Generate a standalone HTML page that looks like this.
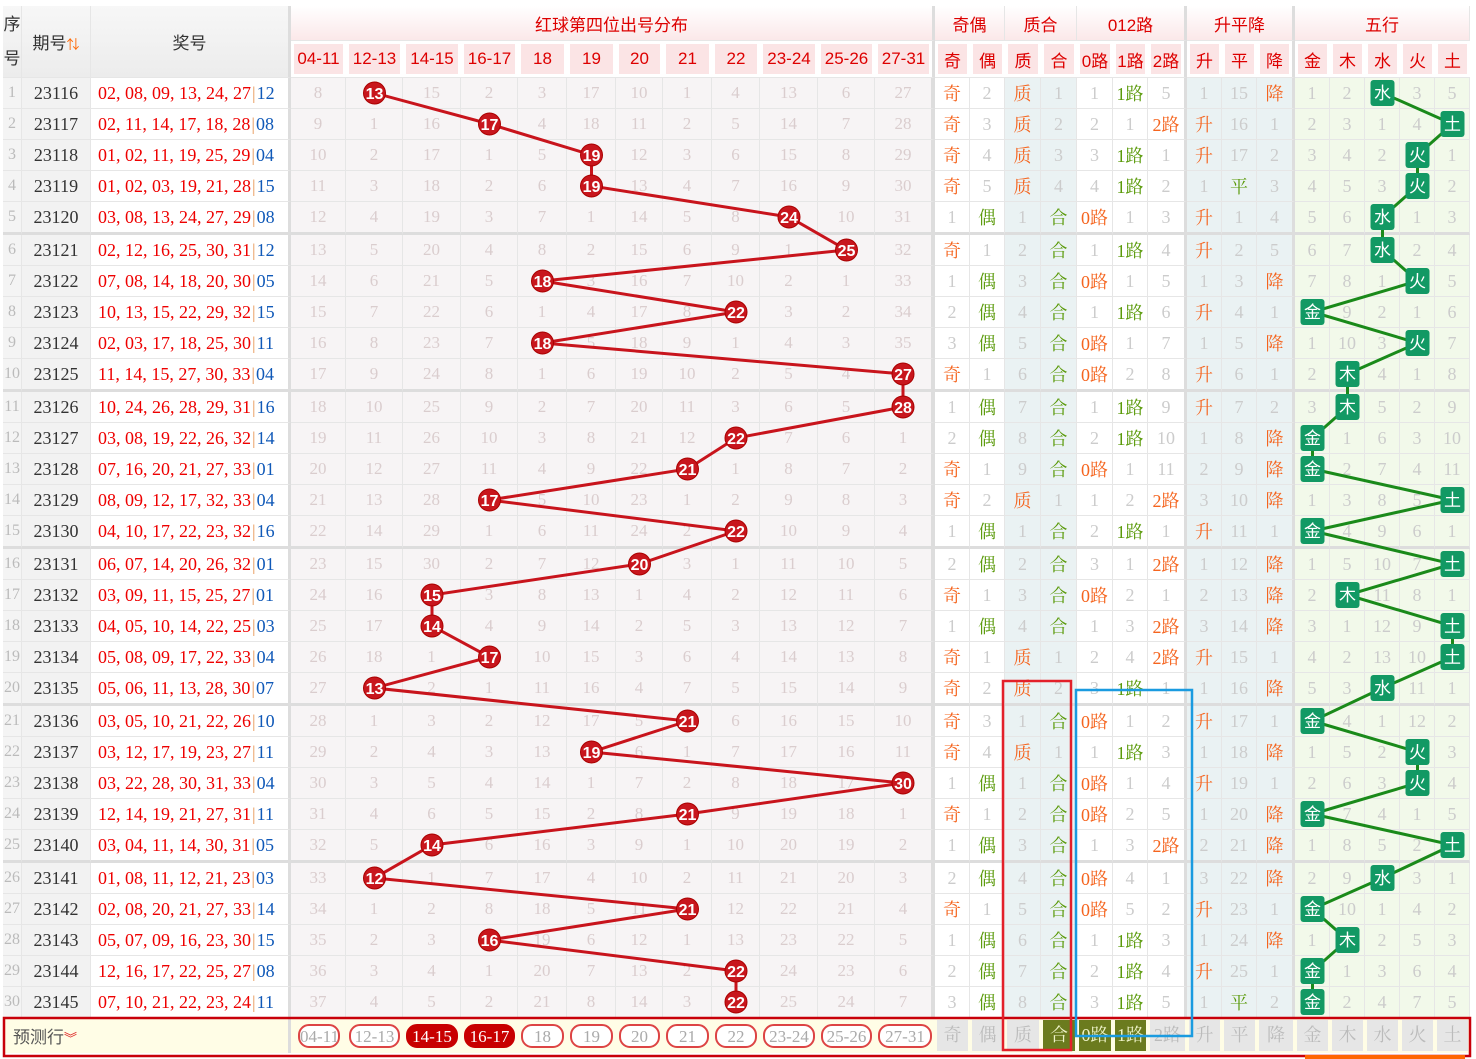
<!DOCTYPE html>
<html><head><meta charset="utf-8">
<style>
body{margin:0;background:#fff;width:1476px;height:1059px;overflow:hidden;position:relative}
table{position:absolute;left:3px;top:6px;border-collapse:separate;border-spacing:0;table-layout:fixed;width:1467px;font-family:"Liberation Serif","Noto Serif CJK SC",serif}
td,th{box-sizing:border-box;padding:0;text-align:center;vertical-align:middle;border-right:1px solid #e6e6e6;border-bottom:1px solid #e6e6e6;overflow:hidden;white-space:nowrap;font-weight:normal}
th{font-family:"Liberation Sans","Noto Sans CJK SC",sans-serif;font-size:17px;color:#d00}
thead tr.h1 th{height:35px;background:linear-gradient(#fff,#fbe8e9)}
thead tr.h1 th.l{background:linear-gradient(#f7f7f7,#ececec);color:#333}
thead tr.h2 th{height:37px;background:#fbe4e5;box-shadow:inset 0 0 0 3px #fff;border-right:none}
th.x{border-right:3px solid #ddd!important}
tbody td{height:31px;font-size:17px;color:#dacdce}
tbody tr.e td{height:33px;border-bottom:3px solid #ddd}
tbody td:nth-child(1){color:#bbb;font-size:16px}
tbody td:nth-child(2){color:#333;font-size:18px}
tbody td:nth-child(3){color:#e00;font-size:18px;text-align:left;padding-left:7px;border-right:3px solid #ddd}
tbody td:nth-child(15){border-right:4px solid #ddd}
tbody td:nth-child(22),tbody td:nth-child(25){border-right:3px solid #ddd}
tbody td:nth-child(n+16){color:#ccc;font-size:18px}
i{font-style:normal;color:#e89a5a;padding:0 1px}
u{text-decoration:none;color:#1059b8}
b{font-weight:normal;color:#f5641e}
em{font-style:normal;color:#5a9a0a}
tr.p td{height:35px;background:#fffde6!important;border-right:none;border-bottom:none}
.pl{display:inline-block;width:calc(100% - 6px);height:24px;line-height:21px;border:2px solid #d44;border-radius:11px;box-sizing:border-box;color:#aaa;font-size:17px;background:#fff}
.pf{background:#c80000;border-color:#c80000;color:#fff}
.g{display:inline-block;width:calc(100% - 4px);height:31px;line-height:31px;background:#e6e6e6;color:#bbb;font-size:18px}
.o{background:#6b7b1e;color:#eef3c8}
svg{position:absolute;left:0;top:0}
</style></head><body>
<table>
<colgroup>
<col style="width:19px;background:#f4f4f4"><col style="width:69px;background:#f2f2f2"><col style="width:200px;background:#fff">
<col style="width:55px;background:#f7f4f5"><col style="width:57px;background:#f7f4f5"><col style="width:58px;background:#f7f4f5"><col style="width:57px;background:#f7f4f5"><col style="width:49px;background:#f7f4f5"><col style="width:49px;background:#f7f4f5"><col style="width:47px;background:#f7f4f5"><col style="width:49px;background:#f7f4f5"><col style="width:48px;background:#f7f4f5"><col style="width:58px;background:#f7f4f5"><col style="width:57px;background:#f7f4f5"><col style="width:60px;background:#f7f4f5">
<col style="width:35px;background:#fff"><col style="width:35px;background:#fff"><col style="width:36px;background:#eaf2f3"><col style="width:36px;background:#eaf2f3"><col style="width:36px;background:#fff"><col style="width:35px;background:#fff"><col style="width:39px;background:#fff">
<col style="width:35px;background:#eaf2f3"><col style="width:35px;background:#eaf2f3"><col style="width:38px;background:#eaf2f3">
<col style="width:35px;background:#f2f9ea"><col style="width:35px;background:#f2f9ea"><col style="width:35px;background:#f2f9ea"><col style="width:35px;background:#f2f9ea"><col style="width:35px;background:#f2f9ea">
</colgroup>
<thead>
<tr class="h1"><th class="l" rowspan="2" style="white-space:normal;line-height:34px">序号</th><th class="l" rowspan="2">期号<span style="color:#f60;font-size:13px">⇅</span></th><th class="l x" rowspan="2">奖号</th><th class="x" colspan="12">红球第四位出号分布</th><th colspan="2">奇偶</th><th colspan="2">质合</th><th class="x" colspan="3">012路</th><th class="x" colspan="3">升平降</th><th colspan="5">五行</th></tr>
<tr class="h2"><th>04-11</th><th>12-13</th><th>14-15</th><th>16-17</th><th>18</th><th>19</th><th>20</th><th>21</th><th>22</th><th>23-24</th><th>25-26</th><th class="x">27-31</th><th>奇</th><th>偶</th><th>质</th><th>合</th><th>0路</th><th>1路</th><th class="x">2路</th><th>升</th><th>平</th><th class="x">降</th><th>金</th><th>木</th><th>水</th><th>火</th><th>土</th></tr>
</thead>
<tbody>
<tr><td>1<td>23116<td>02, 08, 09, 13, 24, 27<i>|</i><u>12</u><td>8<td><td>15<td>2<td>3<td>17<td>10<td>1<td>4<td>13<td>6<td>27<td><b>奇</b><td>2<td><b>质</b><td>1<td>1<td><em>1路</em><td>5<td>1<td>15<td><b>降</b><td>1<td>2<td><td>3<td>5</tr>
<tr><td>2<td>23117<td>02, 11, 14, 17, 18, 28<i>|</i><u>08</u><td>9<td>1<td>16<td><td>4<td>18<td>11<td>2<td>5<td>14<td>7<td>28<td><b>奇</b><td>3<td><b>质</b><td>2<td>2<td>1<td><b>2路</b><td><b>升</b><td>16<td>1<td>2<td>3<td>1<td>4<td></tr>
<tr><td>3<td>23118<td>01, 02, 11, 19, 25, 29<i>|</i><u>04</u><td>10<td>2<td>17<td>1<td>5<td><td>12<td>3<td>6<td>15<td>8<td>29<td><b>奇</b><td>4<td><b>质</b><td>3<td>3<td><em>1路</em><td>1<td><b>升</b><td>17<td>2<td>3<td>4<td>2<td><td>1</tr>
<tr><td>4<td>23119<td>01, 02, 03, 19, 21, 28<i>|</i><u>15</u><td>11<td>3<td>18<td>2<td>6<td><td>13<td>4<td>7<td>16<td>9<td>30<td><b>奇</b><td>5<td><b>质</b><td>4<td>4<td><em>1路</em><td>2<td>1<td><em>平</em><td>3<td>4<td>5<td>3<td><td>2</tr>
<tr class="e"><td>5<td>23120<td>03, 08, 13, 24, 27, 29<i>|</i><u>08</u><td>12<td>4<td>19<td>3<td>7<td>1<td>14<td>5<td>8<td><td>10<td>31<td>1<td><em>偶</em><td>1<td><em>合</em><td><b>0路</b><td>1<td>3<td><b>升</b><td>1<td>4<td>5<td>6<td><td>1<td>3</tr>
<tr><td>6<td>23121<td>02, 12, 16, 25, 30, 31<i>|</i><u>12</u><td>13<td>5<td>20<td>4<td>8<td>2<td>15<td>6<td>9<td>1<td><td>32<td><b>奇</b><td>1<td>2<td><em>合</em><td>1<td><em>1路</em><td>4<td><b>升</b><td>2<td>5<td>6<td>7<td><td>2<td>4</tr>
<tr><td>7<td>23122<td>07, 08, 14, 18, 20, 30<i>|</i><u>05</u><td>14<td>6<td>21<td>5<td><td>3<td>16<td>7<td>10<td>2<td>1<td>33<td>1<td><em>偶</em><td>3<td><em>合</em><td><b>0路</b><td>1<td>5<td>1<td>3<td><b>降</b><td>7<td>8<td>1<td><td>5</tr>
<tr><td>8<td>23123<td>10, 13, 15, 22, 29, 32<i>|</i><u>15</u><td>15<td>7<td>22<td>6<td>1<td>4<td>17<td>8<td><td>3<td>2<td>34<td>2<td><em>偶</em><td>4<td><em>合</em><td>1<td><em>1路</em><td>6<td><b>升</b><td>4<td>1<td><td>9<td>2<td>1<td>6</tr>
<tr><td>9<td>23124<td>02, 03, 17, 18, 25, 30<i>|</i><u>11</u><td>16<td>8<td>23<td>7<td><td>5<td>18<td>9<td>1<td>4<td>3<td>35<td>3<td><em>偶</em><td>5<td><em>合</em><td><b>0路</b><td>1<td>7<td>1<td>5<td><b>降</b><td>1<td>10<td>3<td><td>7</tr>
<tr class="e"><td>10<td>23125<td>11, 14, 15, 27, 30, 33<i>|</i><u>04</u><td>17<td>9<td>24<td>8<td>1<td>6<td>19<td>10<td>2<td>5<td>4<td><td><b>奇</b><td>1<td>6<td><em>合</em><td><b>0路</b><td>2<td>8<td><b>升</b><td>6<td>1<td>2<td><td>4<td>1<td>8</tr>
<tr><td>11<td>23126<td>10, 24, 26, 28, 29, 31<i>|</i><u>16</u><td>18<td>10<td>25<td>9<td>2<td>7<td>20<td>11<td>3<td>6<td>5<td><td>1<td><em>偶</em><td>7<td><em>合</em><td>1<td><em>1路</em><td>9<td><b>升</b><td>7<td>2<td>3<td><td>5<td>2<td>9</tr>
<tr><td>12<td>23127<td>03, 08, 19, 22, 26, 32<i>|</i><u>14</u><td>19<td>11<td>26<td>10<td>3<td>8<td>21<td>12<td><td>7<td>6<td>1<td>2<td><em>偶</em><td>8<td><em>合</em><td>2<td><em>1路</em><td>10<td>1<td>8<td><b>降</b><td><td>1<td>6<td>3<td>10</tr>
<tr><td>13<td>23128<td>07, 16, 20, 21, 27, 33<i>|</i><u>01</u><td>20<td>12<td>27<td>11<td>4<td>9<td>22<td><td>1<td>8<td>7<td>2<td><b>奇</b><td>1<td>9<td><em>合</em><td><b>0路</b><td>1<td>11<td>2<td>9<td><b>降</b><td><td>2<td>7<td>4<td>11</tr>
<tr><td>14<td>23129<td>08, 09, 12, 17, 32, 33<i>|</i><u>04</u><td>21<td>13<td>28<td><td>5<td>10<td>23<td>1<td>2<td>9<td>8<td>3<td><b>奇</b><td>2<td><b>质</b><td>1<td>1<td>2<td><b>2路</b><td>3<td>10<td><b>降</b><td>1<td>3<td>8<td>5<td></tr>
<tr class="e"><td>15<td>23130<td>04, 10, 17, 22, 23, 32<i>|</i><u>16</u><td>22<td>14<td>29<td>1<td>6<td>11<td>24<td>2<td><td>10<td>9<td>4<td>1<td><em>偶</em><td>1<td><em>合</em><td>2<td><em>1路</em><td>1<td><b>升</b><td>11<td>1<td><td>4<td>9<td>6<td>1</tr>
<tr><td>16<td>23131<td>06, 07, 14, 20, 26, 32<i>|</i><u>01</u><td>23<td>15<td>30<td>2<td>7<td>12<td><td>3<td>1<td>11<td>10<td>5<td>2<td><em>偶</em><td>2<td><em>合</em><td>3<td>1<td><b>2路</b><td>1<td>12<td><b>降</b><td>1<td>5<td>10<td>7<td></tr>
<tr><td>17<td>23132<td>03, 09, 11, 15, 25, 27<i>|</i><u>01</u><td>24<td>16<td><td>3<td>8<td>13<td>1<td>4<td>2<td>12<td>11<td>6<td><b>奇</b><td>1<td>3<td><em>合</em><td><b>0路</b><td>2<td>1<td>2<td>13<td><b>降</b><td>2<td><td>11<td>8<td>1</tr>
<tr><td>18<td>23133<td>04, 05, 10, 14, 22, 25<i>|</i><u>03</u><td>25<td>17<td><td>4<td>9<td>14<td>2<td>5<td>3<td>13<td>12<td>7<td>1<td><em>偶</em><td>4<td><em>合</em><td>1<td>3<td><b>2路</b><td>3<td>14<td><b>降</b><td>3<td>1<td>12<td>9<td></tr>
<tr><td>19<td>23134<td>05, 08, 09, 17, 22, 33<i>|</i><u>04</u><td>26<td>18<td>1<td><td>10<td>15<td>3<td>6<td>4<td>14<td>13<td>8<td><b>奇</b><td>1<td><b>质</b><td>1<td>2<td>4<td><b>2路</b><td><b>升</b><td>15<td>1<td>4<td>2<td>13<td>10<td></tr>
<tr class="e"><td>20<td>23135<td>05, 06, 11, 13, 28, 30<i>|</i><u>07</u><td>27<td><td>2<td>1<td>11<td>16<td>4<td>7<td>5<td>15<td>14<td>9<td><b>奇</b><td>2<td><b>质</b><td>2<td>3<td><em>1路</em><td>1<td>1<td>16<td><b>降</b><td>5<td>3<td><td>11<td>1</tr>
<tr><td>21<td>23136<td>03, 05, 10, 21, 22, 26<i>|</i><u>10</u><td>28<td>1<td>3<td>2<td>12<td>17<td>5<td><td>6<td>16<td>15<td>10<td><b>奇</b><td>3<td>1<td><em>合</em><td><b>0路</b><td>1<td>2<td><b>升</b><td>17<td>1<td><td>4<td>1<td>12<td>2</tr>
<tr><td>22<td>23137<td>03, 12, 17, 19, 23, 27<i>|</i><u>11</u><td>29<td>2<td>4<td>3<td>13<td><td>6<td>1<td>7<td>17<td>16<td>11<td><b>奇</b><td>4<td><b>质</b><td>1<td>1<td><em>1路</em><td>3<td>1<td>18<td><b>降</b><td>1<td>5<td>2<td><td>3</tr>
<tr><td>23<td>23138<td>03, 22, 28, 30, 31, 33<i>|</i><u>04</u><td>30<td>3<td>5<td>4<td>14<td>1<td>7<td>2<td>8<td>18<td>17<td><td>1<td><em>偶</em><td>1<td><em>合</em><td><b>0路</b><td>1<td>4<td><b>升</b><td>19<td>1<td>2<td>6<td>3<td><td>4</tr>
<tr><td>24<td>23139<td>12, 14, 19, 21, 27, 31<i>|</i><u>11</u><td>31<td>4<td>6<td>5<td>15<td>2<td>8<td><td>9<td>19<td>18<td>1<td><b>奇</b><td>1<td>2<td><em>合</em><td><b>0路</b><td>2<td>5<td>1<td>20<td><b>降</b><td><td>7<td>4<td>1<td>5</tr>
<tr class="e"><td>25<td>23140<td>03, 04, 11, 14, 30, 31<i>|</i><u>05</u><td>32<td>5<td><td>6<td>16<td>3<td>9<td>1<td>10<td>20<td>19<td>2<td>1<td><em>偶</em><td>3<td><em>合</em><td>1<td>3<td><b>2路</b><td>2<td>21<td><b>降</b><td>1<td>8<td>5<td>2<td></tr>
<tr><td>26<td>23141<td>01, 08, 11, 12, 21, 23<i>|</i><u>03</u><td>33<td><td>1<td>7<td>17<td>4<td>10<td>2<td>11<td>21<td>20<td>3<td>2<td><em>偶</em><td>4<td><em>合</em><td><b>0路</b><td>4<td>1<td>3<td>22<td><b>降</b><td>2<td>9<td><td>3<td>1</tr>
<tr><td>27<td>23142<td>02, 08, 20, 21, 27, 33<i>|</i><u>14</u><td>34<td>1<td>2<td>8<td>18<td>5<td>11<td><td>12<td>22<td>21<td>4<td><b>奇</b><td>1<td>5<td><em>合</em><td><b>0路</b><td>5<td>2<td><b>升</b><td>23<td>1<td><td>10<td>1<td>4<td>2</tr>
<tr><td>28<td>23143<td>05, 07, 09, 16, 23, 30<i>|</i><u>15</u><td>35<td>2<td>3<td><td>19<td>6<td>12<td>1<td>13<td>23<td>22<td>5<td>1<td><em>偶</em><td>6<td><em>合</em><td>1<td><em>1路</em><td>3<td>1<td>24<td><b>降</b><td>1<td><td>2<td>5<td>3</tr>
<tr><td>29<td>23144<td>12, 16, 17, 22, 25, 27<i>|</i><u>08</u><td>36<td>3<td>4<td>1<td>20<td>7<td>13<td>2<td><td>24<td>23<td>6<td>2<td><em>偶</em><td>7<td><em>合</em><td>2<td><em>1路</em><td>4<td><b>升</b><td>25<td>1<td><td>1<td>3<td>6<td>4</tr>
<tr><td>30<td>23145<td>07, 10, 21, 22, 23, 24<i>|</i><u>11</u><td>37<td>4<td>5<td>2<td>21<td>8<td>14<td>3<td><td>25<td>24<td>7<td>3<td><em>偶</em><td>8<td><em>合</em><td>3<td><em>1路</em><td>5<td>1<td><em>平</em><td>2<td><td>2<td>4<td>7<td>5</tr>
<tr class="p"><td colspan="2" style="font-family:'Liberation Sans','Noto Sans CJK SC',sans-serif;color:#555;font-size:17px;text-align:left;padding-left:10px">预测行<span style="color:#d22;font-size:13px">︾</span><td style="border-right:3px solid #ddd"><td><span class="pl">04-11</span><td><span class="pl">12-13</span><td><span class="pl pf">14-15</span><td><span class="pl pf">16-17</span><td><span class="pl">18</span><td><span class="pl">19</span><td><span class="pl">20</span><td><span class="pl">21</span><td><span class="pl">22</span><td><span class="pl">23-24</span><td><span class="pl">25-26</span><td><span class="pl">27-31</span><td><span class="g">奇</span><td><span class="g">偶</span><td><span class="g">质</span><td><span class="g o">合</span><td><span class="g o">0路</span><td><span class="g o">1路</span><td><span class="g">2路</span><td><span class="g">升</span><td><span class="g">平</span><td><span class="g">降</span><td><span class="g">金</span><td><span class="g">木</span><td><span class="g">水</span><td><span class="g">火</span><td><span class="g">土</span></tr>
</tbody>
</table>
<svg width="1476" height="1059" viewBox="0 0 1476 1059">
<g transform="translate(0,1)">
<polyline fill="none" stroke="#c8141c" stroke-width="3" points="374.5,92 489.5,123 591.5,154 591.5,185 789,216 846.5,249 542.5,280 736,311 542.5,342 903,373 903,406 736,437 687.5,468 489.5,499 736,530 639.5,563 432,594 432,625 489.5,656 374.5,687 687.5,720 591.5,751 903,782 687.5,813 432,844 374.5,877 687.5,908 489.5,939 736,970 736,1001"/>
<g fill="#c8161d" stroke="#a00" stroke-width="1">
<circle cx="374.5" cy="92" r="11"/><circle cx="489.5" cy="123" r="11"/><circle cx="591.5" cy="154" r="11"/><circle cx="591.5" cy="185" r="11"/><circle cx="789" cy="216" r="11"/><circle cx="846.5" cy="249" r="11"/><circle cx="542.5" cy="280" r="11"/><circle cx="736" cy="311" r="11"/><circle cx="542.5" cy="342" r="11"/><circle cx="903" cy="373" r="11"/><circle cx="903" cy="406" r="11"/><circle cx="736" cy="437" r="11"/><circle cx="687.5" cy="468" r="11"/><circle cx="489.5" cy="499" r="11"/><circle cx="736" cy="530" r="11"/><circle cx="639.5" cy="563" r="11"/><circle cx="432" cy="594" r="11"/><circle cx="432" cy="625" r="11"/><circle cx="489.5" cy="656" r="11"/><circle cx="374.5" cy="687" r="11"/><circle cx="687.5" cy="720" r="11"/><circle cx="591.5" cy="751" r="11"/><circle cx="903" cy="782" r="11"/><circle cx="687.5" cy="813" r="11"/><circle cx="432" cy="844" r="11"/><circle cx="374.5" cy="877" r="11"/><circle cx="687.5" cy="908" r="11"/><circle cx="489.5" cy="939" r="11"/><circle cx="736" cy="970" r="11"/><circle cx="736" cy="1001" r="11"/>
</g>
<g fill="#fff" font-family="Liberation Sans, sans-serif" font-weight="bold" font-size="16" text-anchor="middle">
<text x="374.5" y="98">13</text><text x="489.5" y="129">17</text><text x="591.5" y="160">19</text><text x="591.5" y="191">19</text><text x="789" y="222">24</text><text x="846.5" y="255">25</text><text x="542.5" y="286">18</text><text x="736" y="317">22</text><text x="542.5" y="348">18</text><text x="903" y="379">27</text><text x="903" y="412">28</text><text x="736" y="443">22</text><text x="687.5" y="474">21</text><text x="489.5" y="505">17</text><text x="736" y="536">22</text><text x="639.5" y="569">20</text><text x="432" y="600">15</text><text x="432" y="631">14</text><text x="489.5" y="662">17</text><text x="374.5" y="693">13</text><text x="687.5" y="726">21</text><text x="591.5" y="757">19</text><text x="903" y="788">30</text><text x="687.5" y="819">21</text><text x="432" y="850">14</text><text x="374.5" y="883">12</text><text x="687.5" y="914">21</text><text x="489.5" y="945">16</text><text x="736" y="976">22</text><text x="736" y="1007">22</text>
</g>
<polyline fill="none" stroke="#1a8a1a" stroke-width="3" points="1382.5,92 1452.5,123 1417.5,154 1417.5,185 1382.5,216 1382.5,249 1417.5,280 1312.5,311 1417.5,342 1347.5,373 1347.5,406 1312.5,437 1312.5,468 1452.5,499 1312.5,530 1452.5,563 1347.5,594 1452.5,625 1452.5,656 1382.5,687 1312.5,720 1417.5,751 1417.5,782 1312.5,813 1452.5,844 1382.5,877 1312.5,908 1347.5,939 1312.5,970 1312.5,1001"/>
<g fill="#129964">
<rect x="1370.5" y="79" width="24" height="26" rx="3"/><rect x="1440.5" y="110" width="24" height="26" rx="3"/><rect x="1405.5" y="141" width="24" height="26" rx="3"/><rect x="1405.5" y="172" width="24" height="26" rx="3"/><rect x="1370.5" y="203" width="24" height="26" rx="3"/><rect x="1370.5" y="236" width="24" height="26" rx="3"/><rect x="1405.5" y="267" width="24" height="26" rx="3"/><rect x="1300.5" y="298" width="24" height="26" rx="3"/><rect x="1405.5" y="329" width="24" height="26" rx="3"/><rect x="1335.5" y="360" width="24" height="26" rx="3"/><rect x="1335.5" y="393" width="24" height="26" rx="3"/><rect x="1300.5" y="424" width="24" height="26" rx="3"/><rect x="1300.5" y="455" width="24" height="26" rx="3"/><rect x="1440.5" y="486" width="24" height="26" rx="3"/><rect x="1300.5" y="517" width="24" height="26" rx="3"/><rect x="1440.5" y="550" width="24" height="26" rx="3"/><rect x="1335.5" y="581" width="24" height="26" rx="3"/><rect x="1440.5" y="612" width="24" height="26" rx="3"/><rect x="1440.5" y="643" width="24" height="26" rx="3"/><rect x="1370.5" y="674" width="24" height="26" rx="3"/><rect x="1300.5" y="707" width="24" height="26" rx="3"/><rect x="1405.5" y="738" width="24" height="26" rx="3"/><rect x="1405.5" y="769" width="24" height="26" rx="3"/><rect x="1300.5" y="800" width="24" height="26" rx="3"/><rect x="1440.5" y="831" width="24" height="26" rx="3"/><rect x="1370.5" y="864" width="24" height="26" rx="3"/><rect x="1300.5" y="895" width="24" height="26" rx="3"/><rect x="1335.5" y="926" width="24" height="26" rx="3"/><rect x="1300.5" y="957" width="24" height="26" rx="3"/><rect x="1300.5" y="988" width="24" height="26" rx="3"/>
</g>
<g fill="#fff" font-family="Noto Sans CJK SC, sans-serif" font-size="17" text-anchor="middle">
<text x="1382.5" y="98">水</text><text x="1452.5" y="129">土</text><text x="1417.5" y="160">火</text><text x="1417.5" y="191">火</text><text x="1382.5" y="222">水</text><text x="1382.5" y="255">水</text><text x="1417.5" y="286">火</text><text x="1312.5" y="317">金</text><text x="1417.5" y="348">火</text><text x="1347.5" y="379">木</text><text x="1347.5" y="412">木</text><text x="1312.5" y="443">金</text><text x="1312.5" y="474">金</text><text x="1452.5" y="505">土</text><text x="1312.5" y="536">金</text><text x="1452.5" y="569">土</text><text x="1347.5" y="600">木</text><text x="1452.5" y="631">土</text><text x="1452.5" y="662">土</text><text x="1382.5" y="693">水</text><text x="1312.5" y="726">金</text><text x="1417.5" y="757">火</text><text x="1417.5" y="788">火</text><text x="1312.5" y="819">金</text><text x="1452.5" y="850">土</text><text x="1382.5" y="883">水</text><text x="1312.5" y="914">金</text><text x="1347.5" y="945">木</text><text x="1312.5" y="976">金</text><text x="1312.5" y="1007">金</text>
</g>
</g>
<rect x="4" y="1018" width="1466" height="38" fill="none" stroke="#c8000a" stroke-width="2.5"/>
<rect x="1003" y="681" width="68" height="369" fill="none" stroke="#e3202a" stroke-width="2.5"/>
<rect x="1076" y="690" width="116" height="346" fill="none" stroke="#1a9be0" stroke-width="2.5"/>
<rect x="1305" y="1055" width="160" height="4" fill="#f60"/>
</svg>
</body></html>
